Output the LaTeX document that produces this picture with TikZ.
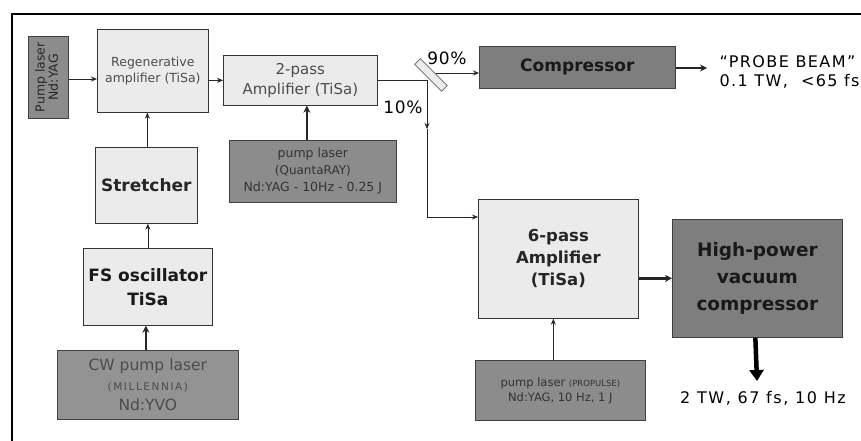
\documentclass[tikz,border=0pt]{standalone}
\usepackage{fontspec}
\usepackage{graphicx}
\setmainfont{DejaVu Sans}
\usetikzlibrary{arrows.meta}
\definecolor{lightfill}{HTML}{EBEBEB}
\definecolor{darkfill}{HTML}{8C8C8C}
\definecolor{compfill}{HTML}{7E7E7E}
\definecolor{cwfill}{HTML}{939393}
\newcommand{\fs}[2]{\fontsize{#1}{#2}\selectfont}
\begin{document}
\begin{tikzpicture}[x=1pt,y=-1pt,
  lightbox/.style={draw=black!80, fill=lightfill, line width=0.7pt, align=center, inner sep=1pt, anchor=north west},
  darkbox/.style={draw=black!75, fill=darkfill, line width=0.7pt, align=center, inner sep=1pt, anchor=north west},
  arr/.style={-{Stealth[length=6pt,width=5pt]}, line width=0.7pt, draw=black!85},
  thickarr/.style={-{Stealth[length=7pt,width=7pt]}, line width=2pt, draw=black!85},
  bigarr/.style={-{Triangle[length=11pt,width=14pt]}, line width=4.5pt, draw=black},
  beam/.style={line width=0.7pt, draw=black!85},
  lbl/.style={font=\fs{17}{20}, text=black}
]
\useasboundingbox (0,0) rectangle (861,441);
\fill[white] (0,0) rectangle (861,441);
% frame
\draw[line width=1.1pt] (12,441) -- (12,14) -- (861,14);

% nodes
\node[darkbox, minimum width=40pt, minimum height=82pt, text=black!85] (pumpA) at (28,36) {\rotatebox{90}{\fs{12.5}{12.5}\begin{tabular}{@{}c@{}}Pump laser\\Nd:YAG\end{tabular}}};

\node[lightbox, minimum width=111pt, minimum height=83pt, font=\fs{12.5}{16}, text=black!70] (regen) at (97,29) {Regenerative\\amplifier (TiSa)};

\node[lightbox, minimum width=154pt, minimum height=50pt, font=\fs{15}{20}, text=black!70] (amp2) at (223,55) {2-pass\\Amplifier (TiSa)};

\node[darkbox, minimum width=167pt, minimum height=62pt, font=\fs{12.5}{17}, text=black!80] (quanta) at (229,140) {pump laser\\{\fs{12}{17}(QuantaRAY)}\\Nd:YAG - 10Hz - 0.25 J};

\node[lightbox, minimum width=102pt, minimum height=76pt, font=\bfseries\fs{17}{20}, text=black!85] (stretcher) at (95,147) {Stretcher};

\node[lightbox, minimum width=129pt, minimum height=77pt, font=\bfseries\fs{17}{24}, text=black!90] (fsosc) at (83,248) {FS oscillator\\TiSa};

\node[darkbox, fill=cwfill, minimum width=181pt, minimum height=69pt, font=\fs{15.5}{20}, text=black!70] (cw) at (57,350) {CW pump laser\\{\fs{10.5}{14}\addfontfeatures{LetterSpace=15}(MILLENNIA)}\\Nd:YVO};

\node[draw=black!60, fill=lightfill, line width=0.7pt, minimum width=38pt, minimum height=8pt, inner sep=0pt, rotate=-45] (mirror) at (431,75) {};

\node[darkbox, fill=compfill, minimum width=196pt, minimum height=42pt, font=\bfseries\fs{17}{20}, text=black!90] (comp) at (479,46) {Compressor};

\node[anchor=west, align=left, font=\fs{16}{19}, text=black] (probe) at (716,72) {\addfontfeatures{LetterSpace=9}“PROBE BEAM”\\\addfontfeatures{LetterSpace=9}0.1 TW,\ \ <65 fs};

\node[lightbox, minimum width=160pt, minimum height=119pt, font=\bfseries\fs{16.5}{22}, text=black!85] (amp6) at (478,199) {6-pass\\Amplifier\\(TiSa)};

\node[darkbox, fill=compfill, minimum width=170pt, minimum height=118pt, font=\bfseries\fs{18.5}{27}, text=black!90] (hp) at (672,219) {High-power\\vacuum\\compressor};

\node[darkbox, minimum width=170pt, minimum height=60pt, font=\fs{11.5}{15}, text=black!80] (propulse) at (475,360) {pump laser {\fs{8.5}{15}(PROPULSE)}\\Nd:YAG, 10 Hz, 1 J};

\node[font=\fs{16}{18}, text=black] (out) at (763,398) {\addfontfeatures{LetterSpace=10}2 TW, 67 fs, 10 Hz};

\node[lbl] (p90) at (447,58) {\addfontfeatures{LetterSpace=4}90\%};
\node[lbl] (p10) at (403,107) {\addfontfeatures{LetterSpace=4}10\%};

% coordinates
\coordinate (split) at (427,80);
\coordinate (midv) at (427,129);
\coordinate (bend) at (427,217);
\coordinate (mout) at (436,73);
\coordinate (probetip) at (707,68);
\coordinate (outtip) at (757,381);

% connectors
\draw[arr] (pumpA.east |- 0,79) -- (regen.west |- 0,79);
\draw[arr] (regen.east |- amp2.west) -- (amp2.west);
\draw[arr] ([xshift=1pt]stretcher.north) -- ([xshift=1pt]stretcher.north |- regen.south);
\draw[arr] (fsosc.north) -- (fsosc.north |- stretcher.south);
\draw[thickarr] ([xshift=-2pt]cw.north) -- ([xshift=-2pt]cw.north |- fsosc.south);
\draw[thickarr] ([xshift=-6pt]quanta.north) -- ([xshift=-6pt]quanta.north |- amp2.south);
\draw[beam] (amp2.east |- split) -- (split);
\draw[arr] (mout) -- (mout -| comp.west);
\draw[arr] (split) -- (midv);
\draw[arr] (midv) -- (bend) -- (bend -| amp6.west);
\draw[thickarr, line width=2.6pt] (comp.east |- probetip) -- (probetip);
\draw[thickarr, line width=2.4pt] (amp6.east |- hp.west) -- (hp.west);
\draw[arr, line width=1.2pt] ([xshift=-7pt]propulse.north) -- ([xshift=-7pt]propulse.north |- amp6.south);
\draw[bigarr] ([xshift=-2pt]hp.south) -- (outtip);
\end{tikzpicture}
\end{document}
